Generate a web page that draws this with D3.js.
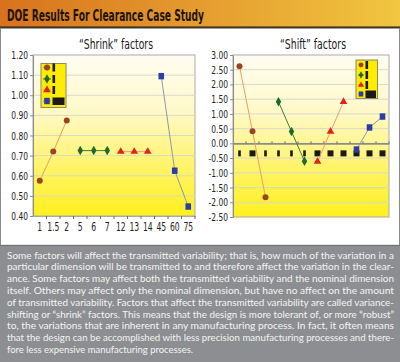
<!DOCTYPE html>
<html>
<head>
<meta charset="utf-8">
<script src="https://cdn.jsdelivr.net/npm/d3@7"></script>
<style>
  body { margin: 0; background: #fff; }
  svg { display: block; }
  .cond { font-family: "Liberation Sans Narrow", "DejaVu Sans Condensed", "Arial Narrow", sans-serif; font-stretch: condensed; }
</style>
</head>
<body>
<div id="grafico"></div>
<script>
const categorias = ["1", "1.5", "2", "5", "6", "7", "12", "13", "14", "45", "60", "75"];

// "Shrink" factors (null = sin punto)
const shrinkMarron = [0.575, 0.72, 0.875, null, null, null, null, null, null, null, null, null];
const shrinkVerde  = [null, null, null, 0.725, 0.725, 0.725, null, null, null, null, null, null];
const shrinkRojo   = [null, null, null, null, null, null, 0.72, 0.72, 0.72, null, null, null];
const shrinkAzul   = [null, null, null, null, null, null, null, null, null, 1.095, 0.625, 0.447];

// "Shift" factors
const shiftMarron = [2.62, 0.41, -1.83, null, null, null, null, null, null, null, null, null];
const shiftVerde  = [null, null, null, 1.41, 0.4, -0.61, null, null, null, null, null, null];
const shiftRojo   = [null, null, null, null, null, null, -0.62, 0.4, 1.41, null, null, null];
const shiftAzul   = [null, null, null, null, null, null, null, null, null, -0.21, 0.54, 0.91];

const ticksShrink = [0.4, 0.5, 0.6, 0.7, 0.8, 0.9, 1.0, 1.1, 1.2];
const ticksShift = [-2.5, -2, -1.5, -1, -0.5, 0, 0.5, 1, 1.5, 2, 2.5, 3];

const parrafo = [
    "Some factors will affect the transmitted variability; that is, how much of the variation in a",
    "particular dimension will be transmitted to and therefore affect the variation in the clear-",
    "ance. Some factors may affect both the transmitted variability and the nominal dimension",
    "itself. Others may affect only the nominal dimension, but have no affect on the amount",
    "of transmitted variability. Factors that affect the transmitted variability are called variance-",
    "shifting or \u201cshrink\u201d factors. This means that the design is more tolerant of, or more \u201crobust\u201d",
    "to, the variations that are inherent in any manufacturing process. In fact, it often means",
    "that the design can be accomplished with less precision manufacturing processes and there-",
    "fore less expensive manufacturing processes."
];

// estilos de cada serie
const estilos = [
    { simbolo: "circulo",   relleno: "#9a4424", linea: "#d9a46a" },
    { simbolo: "diamante",  relleno: "#1d6b2c", linea: "#3f7f3a" },
    { simbolo: "triangulo", relleno: "#e2231a", linea: "#f29a7e" },
    { simbolo: "cuadrado",  relleno: "#2b3ca6", linea: "#9096ac" }
];

const svg = d3.select("#grafico")
    .append("svg")
    .attr("width", 400)
    .attr("height", 362);

const defs = svg.append("defs");
const gHeader = defs.append("linearGradient").attr("id", "fondoHeader");
gHeader.append("stop").attr("offset", "0%").attr("stop-color", "#d7721d");
gHeader.append("stop").attr("offset", "55%").attr("stop-color", "#e6a030");
gHeader.append("stop").attr("offset", "100%").attr("stop-color", "#f1c640");

const gPlot = defs.append("linearGradient").attr("id", "fondoPlot")
    .attr("x1", 0).attr("y1", 0).attr("x2", 0).attr("y2", 1);
gPlot.append("stop").attr("offset", "0%").attr("stop-color", "#fffdf3");
gPlot.append("stop").attr("offset", "35%").attr("stop-color", "#fff9c8");
gPlot.append("stop").attr("offset", "75%").attr("stop-color", "#fff35a");
gPlot.append("stop").attr("offset", "100%").attr("stop-color", "#fff01e");

// comprime el texto en horizontal (la fuente original es mas estrecha)
function estrechar(sel, factor) {
    sel.each(function() {
        const ancho = this.getComputedTextLength();
        d3.select(this)
            .attr("textLength", ancho * factor)
            .attr("lengthAdjust", "spacingAndGlyphs");
    });
}

// Cabecera
svg.append("rect").attr("x", 0).attr("y", 0).attr("width", 400).attr("height", 27)
    .attr("fill", "url(#fondoHeader)");
svg.append("rect").attr("x", 0).attr("y", 26.5).attr("width", 400).attr("height", 1.8)
    .attr("fill", "#2a1e10");
svg.append("text")
    .attr("class", "cond")
    .attr("x", 7).attr("y", 20.5)
    .attr("font-size", 16).attr("font-weight", "bold")
    .attr("fill", "#1a1410")
    .attr("textLength", 197).attr("lengthAdjust", "spacingAndGlyphs")
    .text("DOE Results For Clearance Case Study");

// Panel blanco
svg.append("rect").attr("x", 0.5).attr("y", 28.3).attr("width", 399).attr("height", 217)
    .attr("fill", "#fff").attr("stroke", "#8a8a8a");

// Panel de texto
svg.append("rect").attr("x", 0).attr("y", 245).attr("width", 400).attr("height", 117)
    .attr("fill", "#8c8e91");
svg.append("rect").attr("x", 0).attr("y", 245).attr("width", 400).attr("height", 1)
    .attr("fill", "#6e7073");

svg.append("g").selectAll("text")
    .data(parrafo)
    .join("text")
    .attr("x", 7)
    .attr("y", (d, i) => 258.5 + i * 11.8)
    .attr("font-family", "Lato, 'Open Sans', sans-serif")
    .attr("font-size", 9.6)
    .attr("fill", "#f4f4f4")
    .attr("textLength", (d, i) => i < parrafo.length - 1 ? 387 : 186)
    .attr("lengthAdjust", "spacingAndGlyphs")
    .text(d => d);

function simbolo(g, tipo, color) {
    if (tipo === "circulo") {
        g.append("circle").attr("r", 3).attr("fill", color);
    } else if (tipo === "cuadrado") {
        g.append("rect").attr("x", -2.8).attr("y", -3.2).attr("width", 5.6).attr("height", 6.4).attr("fill", color);
    } else if (tipo === "diamante") {
        g.append("path").attr("d", d3.symbol(d3.symbolDiamond, 26)()).attr("fill", color);
    } else {
        g.append("path").attr("d", d3.symbol(d3.symbolTriangle, 26)()).attr("fill", color);
    }
}

function crearGrafico(cfg) {
    const x = d3.scaleBand()
        .domain(categorias)
        .range([cfg.left, cfg.right])
        .padding(0);

    const y = d3.scaleLinear()
        .domain(cfg.dominio)
        .range([cfg.bottom, cfg.top]);

    // Titulo
    svg.append("text")
        .attr("class", "cond")
        .attr("x", (cfg.left + cfg.right) / 2 + 2)
        .attr("y", 49)
        .attr("text-anchor", "middle")
        .attr("font-size", 14)
        .attr("fill", "#1a1a1a")
        .attr("textLength", cfg.anchoTitulo).attr("lengthAdjust", "spacingAndGlyphs")
        .text(cfg.titulo);

    // Area del grafico
    svg.append("rect")
        .attr("x", cfg.left).attr("y", cfg.top)
        .attr("width", cfg.right - cfg.left).attr("height", cfg.bottom - cfg.top)
        .attr("fill", "url(#fondoPlot)")
        .attr("stroke", "#a9a9a9");

    // Lineas de grilla
    svg.append("g").selectAll("line")
        .data(cfg.ticks.slice(1, -1))
        .join("line")
        .attr("x1", cfg.left).attr("x2", cfg.right)
        .attr("y1", d => y(d)).attr("y2", d => y(d))
        .attr("stroke", "#d9d8cc");

    // Eje Y
    const ejeY = svg.append("g")
        .attr("transform", `translate(${cfg.left},0)`)
        .call(d3.axisLeft(y).tickValues(cfg.ticks).tickFormat(d => d.toFixed(2)).tickSize(3).tickPadding(2).tickSizeOuter(0));
    ejeY.select(".domain").attr("stroke", "#8a8a8a");
    ejeY.selectAll(".tick line").attr("stroke", "#8a8a8a");
    ejeY.selectAll("text").attr("class", "cond").attr("font-size", 11).attr("fill", "#222")
        .call(estrechar, 0.76);

    // Eje X
    const y0 = cfg.ejeEnCero ? y(0) : cfg.bottom;
    const ejeX = svg.append("g")
        .attr("transform", `translate(0,${y0})`)
        .call(d3.axisBottom(x).tickSize(0).tickFormat(cfg.ejeEnCero ? "" : d => d).tickPadding(7).tickSizeOuter(0));
    ejeX.select(".domain").attr("stroke", cfg.ejeEnCero ? "#8c8c8c" : "#a9a9a9")
        .attr("stroke-width", cfg.ejeEnCero ? 1.6 : 1);
    ejeX.selectAll(".tick text").attr("class", "cond").attr("font-size", 11.5).attr("fill", "#222")
        .call(estrechar, 0.74);

    // marcas entre categorias
    ejeX.append("g").selectAll("line")
        .data(categorias.slice(1).map(c => x(c)).concat([cfg.right]))
        .join("line")
        .attr("x1", d => d).attr("x2", d => d)
        .attr("y1", cfg.ejeEnCero ? -2 : 0).attr("y2", cfg.ejeEnCero ? 0 : 3)
        .attr("stroke", "#6a6a6a");

    // etiquetas tapadas (bloques negros)
    if (cfg.ejeEnCero) {
        ejeX.append("g").selectAll("rect")
            .data(categorias)
            .join("rect")
            .attr("x", d => x(d) + x.bandwidth() / 2 - (d.length > 1 ? 3 : 1.3))
            .attr("y", 7)
            .attr("width", d => d.length > 1 ? 6 : 2.6)
            .attr("height", 6)
            .attr("fill", "#1a1a1a");
    }

    // Series
    cfg.series.forEach((valores, i) => {
        const est = estilos[i];
        const puntos = categorias.map((c, j) => ({ c: c, v: valores[j] })).filter(d => d.v !== null);
        const linea = d3.line()
            .x(d => x(d.c) + x.bandwidth() / 2)
            .y(d => y(d.v));
        svg.append("path")
            .datum(puntos)
            .attr("d", linea)
            .attr("fill", "none")
            .attr("stroke", est.linea)
            .attr("stroke-width", 1);
        puntos.forEach(d => {
            const g = svg.append("g")
                .attr("transform", `translate(${x(d.c) + x.bandwidth() / 2},${y(d.v)})`);
            simbolo(g, est.simbolo, est.relleno);
        });
    });

    // Leyenda
    const ley = cfg.leyenda;
    svg.append("rect")
        .attr("x", ley.x).attr("y", ley.y)
        .attr("width", ley.w).attr("height", ley.h)
        .attr("fill", "#ffec00")
        .attr("stroke", "#8a8a6a");
    estilos.forEach((est, i) => {
        const fy = ley.filas[i];
        svg.append("line")
            .attr("x1", ley.x + 2).attr("x2", ley.x + ley.mx * 2 - 2)
            .attr("y1", fy).attr("y2", fy)
            .attr("stroke", est.linea);
        const g = svg.append("g").attr("transform", `translate(${ley.x + ley.mx},${fy}) scale(${ley.escala})`);
        simbolo(g, est.simbolo, est.relleno);
        const ancho = i < 3 ? 2.6 : ley.w - ley.mx * 2 - 1;
        svg.append("rect")
            .attr("x", ley.x + ley.mx * 2 - 0.5)
            .attr("y", i < 3 ? fy - 4 : fy - 3.5)
            .attr("width", ancho)
            .attr("height", i < 3 ? 8 : 7.5)
            .attr("fill", "#1a1a1a");
    });
}

crearGrafico({
    titulo: "\u201cShrink\u201d factors",
    anchoTitulo: 74,
    left: 33, right: 195, top: 55, bottom: 216,
    dominio: [0.4, 1.2],
    ticks: ticksShrink,
    ejeEnCero: false,
    series: [shrinkMarron, shrinkVerde, shrinkRojo, shrinkAzul],
    leyenda: { x: 41, y: 63.5, w: 25, h: 44, mx: 6, escala: 1, filas: [67.5, 79, 90, 101] }
});

crearGrafico({
    titulo: "\u201cShift\u201d factors",
    anchoTitulo: 66,
    left: 233, right: 389, top: 55, bottom: 217,
    dominio: [-2.5, 3],
    ticks: ticksShift,
    ejeEnCero: true,
    series: [shiftMarron, shiftVerde, shiftRojo, shiftAzul],
    leyenda: { x: 356, y: 60, w: 21.5, h: 38.5, mx: 5, escala: 0.8, filas: [65, 75, 85, 94] }
});
</script>
</body>
</html>
